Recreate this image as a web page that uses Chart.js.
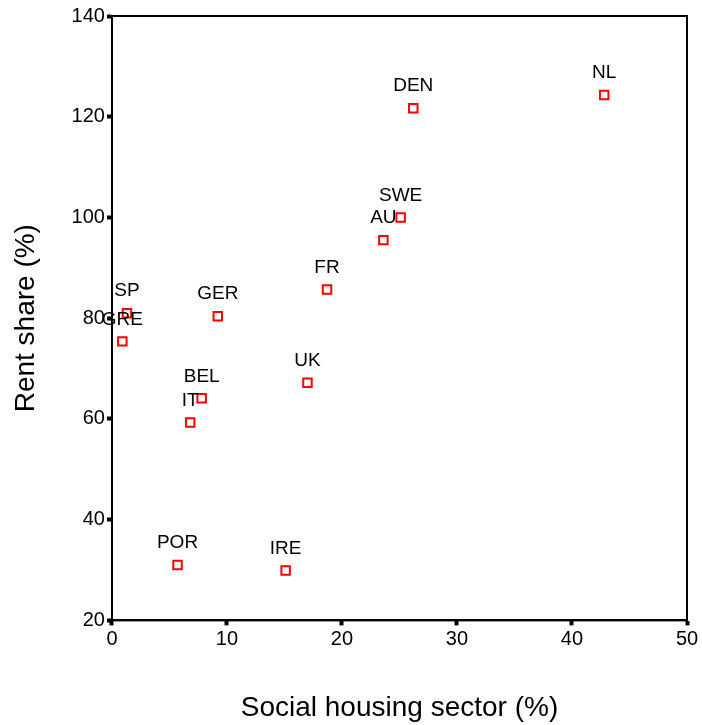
<!DOCTYPE html>
<html>
<head>
<meta charset="utf-8">
<script src="https://cdn.jsdelivr.net/npm/chart.js@4/dist/chart.umd.min.js"></script>
<style>
  body { margin: 0; background: #fff; }
  #wrap { width: 702px; height: 725px; }
</style>
</head>
<body>
<div id="wrap"><canvas id="canvas" width="702" height="725"></canvas></div>
<script>
// countries and their values
var countries = ['NL', 'DEN', 'SWE', 'AU', 'FR', 'GER', 'SP', 'GRE', 'UK', 'BEL', 'IT', 'POR', 'IRE'];
var socialHousing = [42.8, 26.2, 25.1, 23.6, 18.7, 9.2, 1.3, 0.9, 17.0, 7.8, 6.8, 5.7, 15.1];
var rentShare = [124.3, 121.7, 100.0, 95.5, 85.7, 80.4, 81.0, 75.4, 67.2, 64.1, 59.3, 31.0, 29.9];
var xTicks = [0, 10, 20, 30, 40, 50];
var yTicks = [20, 40, 60, 80, 100, 120, 140];

var fontFamily = '"Liberation Sans", Arial, sans-serif';

var points = countries.map(function(c, i) {
        return { x: socialHousing[i], y: rentShare[i], label: c };
});

// box round the plot area
var frame = {
        id: 'frame',
        afterDraw: function(chart) {
                var a = chart.chartArea, ctx = chart.ctx;
                ctx.save();
                ctx.strokeStyle = '#000';
                ctx.lineWidth = 2;
                ctx.strokeRect(a.left, a.top, a.right - a.left, a.bottom - a.top);
                ctx.restore();
        }
};

// country names over each marker
var pointLabels = {
        id: 'pointLabels',
        afterDatasetsDraw: function(chart) {
                var ctx = chart.ctx;
                var meta = chart.getDatasetMeta(0);
                ctx.save();
                ctx.font = '19px ' + fontFamily;
                ctx.fillStyle = '#000';
                ctx.textAlign = 'center';
                ctx.textBaseline = 'middle';
                meta.data.forEach(function(el, i) {
                        ctx.fillText(countries[i], el.x, el.y - 22);
                });
                ctx.restore();
        }
};

var config = {
        type: 'scatter',
        data: {
                datasets: [{
                        data: points,
                        pointStyle: 'rect',
                        pointRadius: 6,
                        pointHoverRadius: 6,
                        borderColor: '#ff0000',
                        backgroundColor: '#ffffff',
                        borderWidth: 2
                }]
        },
        options: {
                responsive: false,
                animation: false,
                layout: { padding: { top: 16, right: 15, left: 9, bottom: 0 } },
                plugins: {
                        legend: { display: false },
                        tooltip: { enabled: false }
                },
                scales: {
                        x: {
                                min: 0,
                                max: 50,
                                afterBuildTicks: function(s) { s.ticks = xTicks.map(function(v) { return { value: v }; }); },
                                grid: { drawOnChartArea: false, tickLength: 5, tickWidth: 4, tickColor: '#000' },
                                border: { color: '#000', width: 2 },
                                ticks: { color: '#000', font: { family: fontFamily, size: 20 }, padding: 2, maxRotation: 0 },
                                title: {
                                        display: true,
                                        text: 'Social housing sector (%)',
                                        color: '#000',
                                        font: { family: fontFamily, size: 28 },
                                        padding: { top: 38, bottom: 0 }
                                }
                        },
                        y: {
                                min: 20,
                                max: 140,
                                afterBuildTicks: function(s) { s.ticks = yTicks.map(function(v) { return { value: v }; }); },
                                grid: { drawOnChartArea: false, tickLength: 5, tickWidth: 4, tickColor: '#000' },
                                border: { color: '#000', width: 2 },
                                ticks: { color: '#000', font: { family: fontFamily, size: 20 }, padding: 2 },
                                title: {
                                        display: true,
                                        text: 'Rent share (%)',
                                        color: '#000',
                                        font: { family: fontFamily, size: 28 },
                                        padding: { top: 0, bottom: 27 }
                                }
                        }
                }
        },
        plugins: [frame, pointLabels]
};

window.onload = function() {
        var ctx = document.getElementById('canvas').getContext('2d');
        window.myScatter = new Chart(ctx, config);
};
</script>
</body>
</html>
